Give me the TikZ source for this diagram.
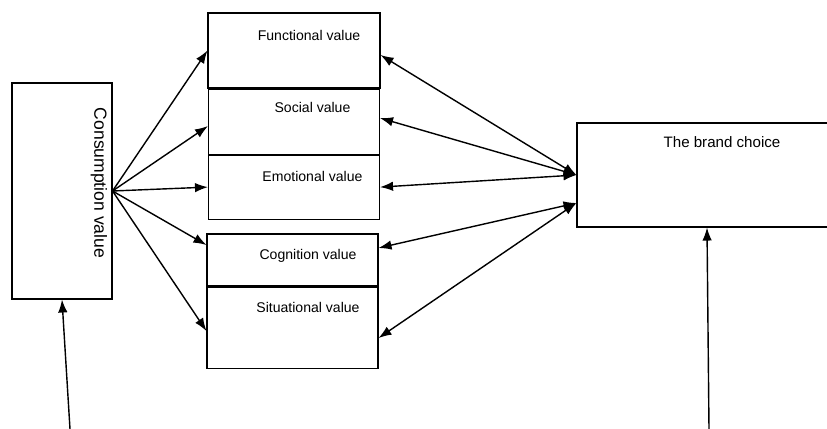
\documentclass[tikz,border=0pt]{standalone}
\usepackage{fontspec}
\setmainfont{Liberation Sans}
\usepackage{tikz}
\usetikzlibrary{positioning, arrows.meta}

\tikzset{
  box/.style={draw, semithick, inner sep=0pt},
  lbl/.style={font=\fontsize{8}{9}\selectfont, inner sep=0pt},
  link/.style={thick, -{Latex[length=2.6mm,width=1.9mm]}},
  biLink/.style={thick, {Latex[length=2.6mm,width=1.9mm]}-{Latex[length=2.6mm,width=1.9mm]}}
}

\begin{document}
\begin{tikzpicture}
          \useasboundingbox (0,0) rectangle (16.54,-8.58);
          % boxes
          \node[box, minimum width=2cm, minimum height=4.32cm] (cons) at (1.24,-3.82) {};
          \node[box, minimum width=3.44cm, minimum height=1.5cm] (func) at (5.88,-1.01) {};
          \node[box, minimum width=3.42cm, minimum height=1.3cm, below=0pt of func.south, anchor=north] (soc) {};
          \node[box, minimum width=3.42cm, minimum height=1.28cm, below=0pt of soc] (emo) {};
          \node[box, minimum width=3.42cm, minimum height=1.04cm] (cog) at (5.85,-5.2) {};
          \node[box, minimum width=3.42cm, minimum height=1.62cm, below=0pt of cog] (sit) {};
          \node[box, minimum width=5.2cm, minimum height=2.08cm] (brand) at (14.14,-3.5) {};
          % labels
          \node[inner sep=0pt, rotate=-90] (consTxt) at ([xshift=0.74cm, yshift=0.16cm]cons.center) {Consumption value};
          \node[lbl] (funcTxt) at ([xshift=0.3cm, yshift=-0.46cm]func.north) {Functional value};
          \node[lbl] (socTxt) at ([xshift=0.37cm, yshift=-0.38cm]soc.north) {Social value};
          \node[lbl] (emoTxt) at ([xshift=0.37cm, yshift=-0.44cm]emo.north) {Emotional value};
          \node[lbl] (cogTxt) at ([xshift=0.31cm, yshift=-0.44cm]cog.north) {Cognition value};
          \node[lbl] (sitTxt) at ([xshift=0.31cm, yshift=-0.42cm]sit.north) {Situational value};
          \node[lbl, font=\fontsize{8.6}{10}\selectfont] (brandTxt) at ([xshift=0.3cm, yshift=-0.4cm]brand.north) {The brand choice};
          % consumption value to the five values
          \draw[link] (cons.east) -- (func.west);
          \draw[link] (cons.east) -- ([yshift=-0.09cm]soc.west);
          \draw[link] (cons.east) -- (emo.west);
          \draw[link] (cons.east) -- ([yshift=0.3cm]cog.west);
          \draw[link] (cons.east) -- ([yshift=-0.07cm]sit.west);
          % values and the brand choice
          \draw[biLink] ([yshift=-0.09cm]func.east) -- (brand.west);
          \draw[biLink] ([yshift=0.07cm]soc.east) -- (brand.west);
          \draw[biLink] (emo.east) -- (brand.west);
          \draw[biLink] ([yshift=0.24cm]cog.east) -- ([yshift=-0.56cm]brand.west);
          \draw[biLink] ([yshift=-0.21cm]sit.east) -- ([yshift=-0.56cm]brand.west);
          % feedback from below
          \coordinate (consFoot) at (1.4,-8.58);
          \coordinate (brandFoot) at (14.18,-8.58);
          \draw[link] (consFoot) -- (cons.south);
          \draw[link] (brandFoot) -- (brand.south);
        \end{tikzpicture}
\end{document}
